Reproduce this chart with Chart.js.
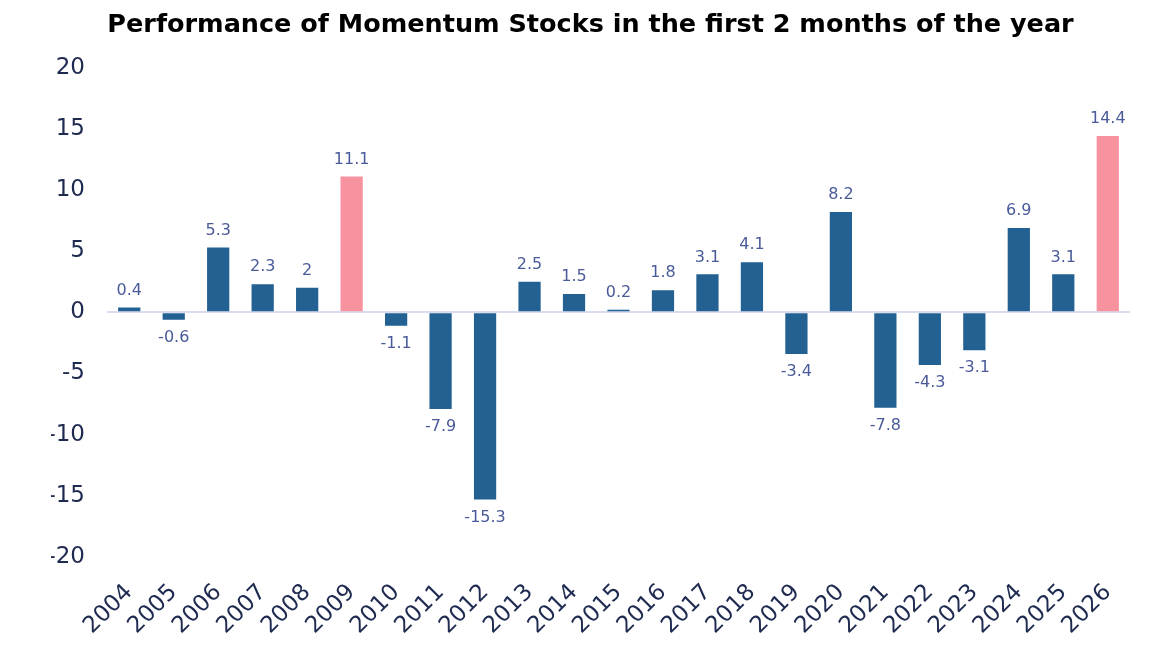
<!DOCTYPE html>
<html>
<head>
<meta charset="utf-8">
<script src="https://cdn.jsdelivr.net/npm/chart.js@4"></script>
<style>
  html, body { margin: 0; padding: 0; background: #fff; }
  #wrap { width: 1151px; height: 646px; }
</style>
</head>
<body>
<div id="wrap"><canvas id="momentumChart"></canvas></div>
<script>
// Data
const years = ['2004', '2005', '2006', '2007', '2008', '2009', '2010', '2011', '2012', '2013', '2014', '2015',
    '2016', '2017', '2018', '2019', '2020', '2021', '2022', '2023', '2024', '2025', '2026'];
const returns = [0.4, -0.6, 5.3, 2.3, 2, 11.1, -1.1, -7.9, -15.3, 2.5, 1.5, 0.2,
    1.8, 3.1, 4.1, -3.4, 8.2, -7.8, -4.3, -3.1, 6.9, 3.1, 14.4];
const highlightYears = ['2009', '2026'];
const yTicks = [-20, -15, -10, -5, 0, 5, 10, 15, 20];

const barBlue = '#236192';
const barPink = '#f7929f';
const tickColor = '#1f2a50';
const labelColor = '#4a5a9a';
const fontFamily = '"DejaVu Sans", sans-serif';

// Simple inline value labels (no datalabels plugin available)
const valueLabels = {
    id: 'valueLabels',
    afterDatasetsDraw(chart) {
        const ctx = chart.ctx;
        const meta = chart.getDatasetMeta(0);
        ctx.save();
        ctx.font = '16px ' + fontFamily;
        ctx.fillStyle = labelColor;
        ctx.textAlign = 'center';
        meta.data.forEach(function(bar, i) {
            const v = returns[i];
            if (v >= 0) {
                ctx.textBaseline = 'bottom';
                ctx.fillText(String(v), bar.x, bar.y - 9);
            } else {
                ctx.textBaseline = 'top';
                ctx.fillText(String(v), bar.x, bar.y + 10);
            }
        });
        ctx.restore();
    }
};

new Chart(document.getElementById('momentumChart'), {
    type: 'bar',
    data: {
        labels: years,
        datasets: [{
            data: returns,
            backgroundColor: years.map(y => highlightYears.includes(y) ? barPink : barBlue),
            barPercentage: 0.5,
            categoryPercentage: 1.0
        }]
    },
    options: {
        responsive: true,
        maintainAspectRatio: false,
        animation: false,
        layout: { padding: { left: 51, right: 21, top: 0, bottom: 0 } },
        plugins: {
            legend: { display: false },
            tooltip: { enabled: false },
            title: {
                display: true,
                text: 'Performance of Momentum Stocks in the first 2 months of the year',
                color: '#000',
                font: { family: fontFamily, size: 25.5, weight: 'bold' },
                padding: { top: 10, bottom: 27 }
            }
        },
        scales: {
            x: {
                grid: { display: false },
                border: { display: false },
                afterFit(axis) {
                    axis.height = 89;
                },
                ticks: {
                    color: tickColor,
                    font: { family: fontFamily, size: 23 },
                    autoSkip: false,
                    minRotation: 45,
                    maxRotation: 45,
                    padding: 14
                }
            },
            y: {
                min: -20,
                max: 20,
                afterBuildTicks(axis) {
                    axis.ticks = yTicks.map(v => ({ value: v }));
                },
                afterFit(axis) {
                    axis.width = 56;
                },
                border: { display: false },
                grid: {
                    drawTicks: false,
                    color: ctx => ctx.tick && ctx.tick.value === 0 ? '#d9dcef' : 'transparent',
                    lineWidth: 2
                },
                ticks: {
                    color: tickColor,
                    font: { family: fontFamily, size: 23 },
                    padding: 22
                }
            }
        }
    },
    plugins: [valueLabels]
});
</script>
</body>
</html>
